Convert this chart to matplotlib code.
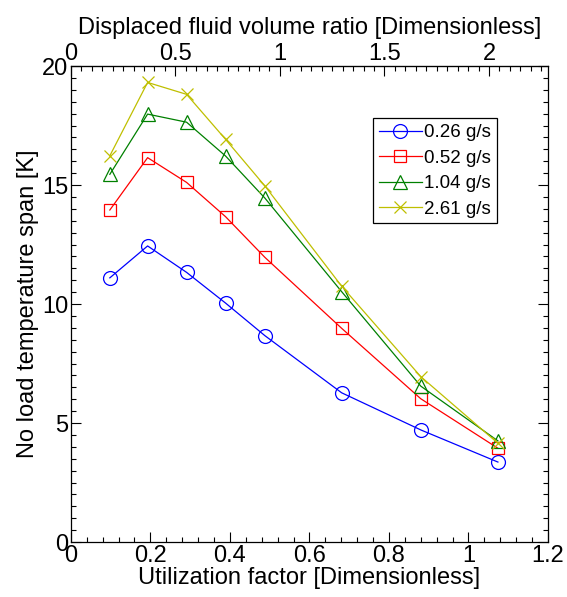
import matplotlib
matplotlib.use("Agg")
import matplotlib.pyplot as plt
from matplotlib.ticker import MultipleLocator, FixedLocator, FuncFormatter

plt.rcParams['font.family'] = ['Liberation Sans', 'DejaVu Sans']

# utilization factor of each run
util = [0.098, 0.193, 0.291, 0.389, 0.488, 0.681, 0.880, 1.074]

flow_labels = ['0.26 g/s', '0.52 g/s', '1.04 g/s', '2.61 g/s']
span_026 = [11.10, 12.44, 11.33, 10.04, 8.67, 6.27, 4.71, 3.36]
span_052 = [13.95, 16.15, 15.11, 13.67, 11.96, 8.98, 6.02, 3.94]
span_104 = [15.45, 17.98, 17.64, 16.22, 14.45, 10.52, 6.55, 4.25]
span_261 = [16.23, 19.31, 18.81, 16.92, 14.96, 10.75, 6.95, 4.15]

# displaced fluid volume ratio per unit of utilization factor
ratio_scale = 1.902
top_ticks = [0, 0.5, 1, 1.5, 2]

fs = 17
fmt = FuncFormatter(lambda v, p: '%g' % round(v, 3))

fig = plt.figure(figsize=(5.67, 5.97), dpi=100)
ax = fig.add_axes([0.125, 0.0921, 0.8415, 0.7973])

styles = [
    dict(color='#0000ff', marker='o', ms=10),
    dict(color='#ff0000', marker='s', ms=9),
    dict(color='#008000', marker='^', ms=10.5),
    dict(color='#bfbf00', marker='x', ms=8.5),
]
for ys, lab, st in zip([span_026, span_052, span_104, span_261], flow_labels, styles):
    ax.plot(util, ys, color=st['color'], marker=st['marker'], markersize=st['ms'],
            markerfacecolor='none', markeredgecolor=st['color'], markeredgewidth=0.9,
            linewidth=0.9, label=lab)

ax.set_xlim(0, 1.2)
ax.set_ylim(0, 20)
ax.xaxis.set_major_locator(MultipleLocator(0.2))
ax.xaxis.set_minor_locator(MultipleLocator(0.04))
ax.yaxis.set_major_locator(MultipleLocator(5))
ax.yaxis.set_minor_locator(MultipleLocator(0.5))
ax.xaxis.set_major_formatter(fmt)
ax.yaxis.set_major_formatter(fmt)
ax.tick_params(which='both', direction='in', top=False, right=True, labelsize=fs, width=0.8, pad=2)
ax.tick_params(which='major', length=7)
ax.tick_params(which='minor', length=3.5)
for sp in ax.spines.values():
    sp.set_linewidth(0.9)

ax.set_xlabel('Utilization factor [Dimensionless]', fontsize=fs, labelpad=0)
ax.set_ylabel('No load temperature span [K]', fontsize=fs, labelpad=2)

top = ax.secondary_xaxis('top', functions=(lambda x: x * ratio_scale, lambda x: x / ratio_scale))
top.xaxis.set_major_locator(FixedLocator(top_ticks))
top.xaxis.set_minor_locator(MultipleLocator(0.05))
top.xaxis.set_major_formatter(fmt)
top.tick_params(which='both', direction='in', labelsize=fs, width=0.8, pad=1)
top.tick_params(which='major', length=7)
top.tick_params(which='minor', length=3.5)
top.set_xlabel('Displaced fluid volume ratio [Dimensionless]', fontsize=fs, labelpad=6)

leg = ax.legend(loc='upper left', bbox_to_anchor=(0.633, 0.89), fontsize=13.5,
                fancybox=False, edgecolor='black', framealpha=1,
                handlelength=2.3, borderpad=0.3, labelspacing=0.45, handletextpad=0.15,
                borderaxespad=0)
leg.get_frame().set_linewidth(0.9)

fig.savefig('out.png', dpi=100)
